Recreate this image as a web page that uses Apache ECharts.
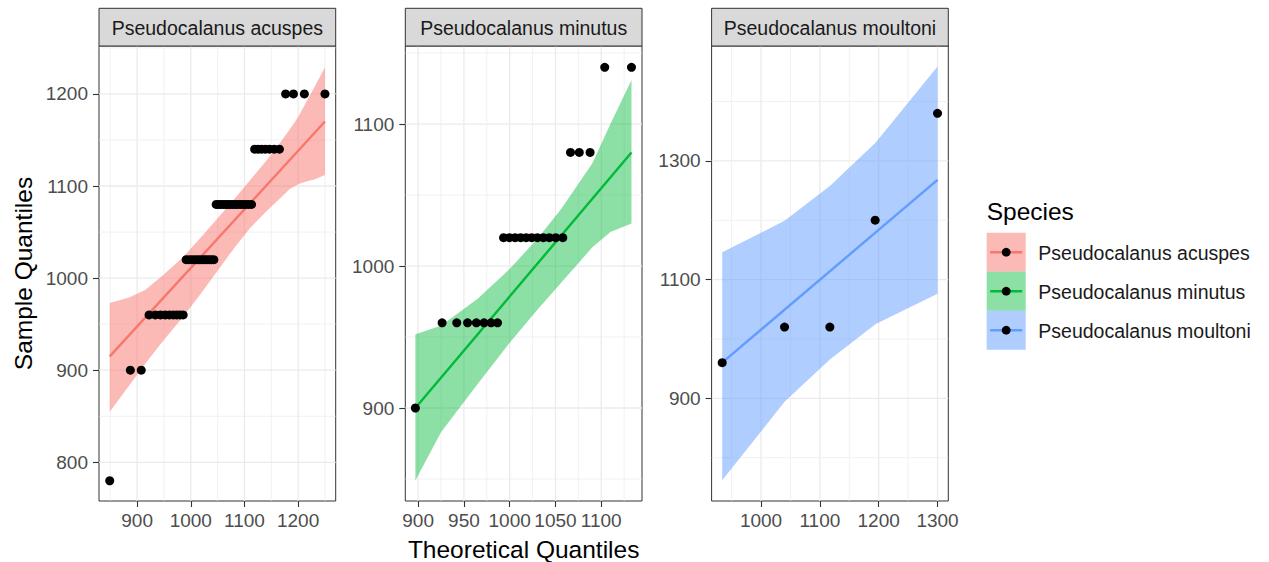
<!DOCTYPE html>
<html>
<head>
<meta charset="utf-8">
<script src="https://cdn.jsdelivr.net/npm/echarts@6/dist/echarts.min.js"></script>
<style>
  html, body { margin: 0; padding: 0; background: #ffffff; }
  #chart { width: 1269px; height: 562px; }
</style>
</head>
<body>
<div id="chart"></div>
<script>
// ---- data ----
const species = ['Pseudocalanus acuspes', 'Pseudocalanus minutus', 'Pseudocalanus moultoni'];

// Pseudocalanus acuspes: theoretical vs sample quantiles
const acuspesTheo = [849.0, 887.4, 907.7, 922.3, 933.9, 943.7, 952.4, 960.2, 967.3, 973.8,
  980.0, 985.8, 991.4, 996.7, 1001.8, 1006.7, 1011.6, 1016.3, 1020.9, 1025.5,
  1029.8, 1034.3, 1038.6, 1043.0, 1047.3, 1051.7, 1056.0, 1060.4, 1064.7, 1069.2,
  1073.5, 1078.1, 1082.7, 1087.4, 1092.3, 1097.2, 1102.3, 1107.6, 1113.2, 1119.0,
  1125.2, 1131.7, 1138.8, 1146.6, 1155.3, 1165.1, 1176.7, 1191.3, 1211.6, 1250.0];
const acuspesSample = [780, 900, 900, 960, 960, 960, 960, 960, 960, 960,
  960, 960, 1020, 1020, 1020, 1020, 1020, 1020, 1020, 1020,
  1020, 1020, 1020, 1020, 1080, 1080, 1080, 1080, 1080, 1080,
  1080, 1080, 1080, 1080, 1080, 1080, 1080, 1080, 1080, 1140,
  1140, 1140, 1140, 1140, 1140, 1140, 1200, 1200, 1200, 1200];
const acuspesLine = [[849, 915], [1250, 1170]];
const acuspesBandX  = [849, 885, 915, 946, 985, 1020, 1050, 1080, 1110, 1140, 1165, 1185, 1200, 1215, 1230, 1250];
const acuspesBandHi = [973, 979, 987, 1002, 1022.5, 1045, 1065, 1085, 1106, 1127, 1146, 1162, 1175, 1191, 1207, 1229];
const acuspesBandLo = [855, 883, 907, 930, 957.5, 984, 1008, 1032, 1054, 1072, 1086, 1097, 1102, 1105, 1107, 1112];

// Pseudocalanus minutus
const minutusTheo = [897.0, 926.2, 942.2, 954.0, 963.6, 972.0, 979.7, 986.7, 993.3, 999.7,
  1005.9, 1012.0, 1018.0, 1024.1, 1030.3, 1036.7, 1043.3, 1050.3, 1058.0, 1066.4,
  1076.0, 1087.8, 1103.8, 1133.0];
const minutusSample = [900, 960, 960, 960, 960, 960, 960, 960, 1020, 1020,
  1020, 1020, 1020, 1020, 1020, 1020, 1020, 1020, 1020, 1080,
  1080, 1080, 1140, 1140];
const minutusLine = [[897, 900], [1133, 1080]];
const minutusBandX  = [897, 925, 965, 1000, 1030, 1056, 1090, 1110, 1133];
const minutusBandHi = [952, 958, 977, 998, 1019, 1040, 1072, 1100, 1131];
const minutusBandLo = [849, 883, 917, 946, 969, 988, 1013, 1024, 1030];

// Pseudocalanus moultoni
const moultoniTheo = [934, 1040, 1117, 1194, 1300];
const moultoniSample = [960, 1020, 1020, 1200, 1380];
const moultoniLine = [[934, 960], [1300, 1268]];
const moultoniBandX  = [934, 1040, 1117.5, 1195, 1300];
const moultoniBandHi = [1146, 1199, 1258, 1331, 1459];
const moultoniBandLo = [762, 894, 966, 1025, 1076];

// tick labels and grid breaks
const acuspesXTicks = [900, 1000, 1100, 1200];
const acuspesYTicks = [800, 900, 1000, 1100, 1200];
const acuspesXMinor = [850, 950, 1050, 1150, 1250];
const acuspesYMinor = [850, 950, 1050, 1150, 1250];
const minutusXTicks = [900, 950, 1000, 1050, 1100];
const minutusYTicks = [900, 1000, 1100];
const minutusXMinor = [925, 975, 1025, 1075, 1125];
const minutusYMinor = [850, 950, 1050, 1150];
const moultoniXTicks = [1000, 1100, 1200, 1300];
const moultoniYTicks = [900, 1100, 1300];
const moultoniXMinor = [950, 1050, 1150, 1250];
const moultoniYMinor = [800, 1000, 1200, 1400];

// ---- styling / layout ----
const FONT = "'Liberation Sans', Arial, Helvetica, sans-serif";
const lineColors = ['#F8766D', '#00BA38', '#619CFF'];
const bandColors = ['rgba(248,118,109,0.5)', 'rgba(0,186,56,0.45)', 'rgba(97,156,255,0.5)'];

const panels = [
  { theo: acuspesTheo, sample: acuspesSample, line: acuspesLine,
    bx: acuspesBandX, bhi: acuspesBandHi, blo: acuspesBandLo,
    xt: acuspesXTicks, yt: acuspesYTicks, xm: acuspesXMinor, ym: acuspesYMinor,
    xr: [829, 1270], yr: [758, 1252] },
  { theo: minutusTheo, sample: minutusSample, line: minutusLine,
    bx: minutusBandX, bhi: minutusBandHi, blo: minutusBandLo,
    xt: minutusXTicks, yt: minutusYTicks, xm: minutusXMinor, ym: minutusYMinor,
    xr: [886, 1144.5], yr: [834.5, 1155] },
  { theo: moultoniTheo, sample: moultoniSample, line: moultoniLine,
    bx: moultoniBandX, bhi: moultoniBandHi, blo: moultoniBandLo,
    xt: moultoniXTicks, yt: moultoniYTicks, xm: moultoniXMinor, ym: moultoniYMinor,
    xr: [916, 1318.3], yr: [727, 1493.5] }
];

const panelLeft = [99, 405.3, 711.6];
const panelTop = 46, panelW = 236.7, panelH = 455;
const stripTop = 8.3, stripH = 37.7;

const plainNumber = v => String(Math.round(v));
const grids = [], xAxes = [], yAxes = [], series = [], graphics = [];

panels.forEach((p, i) => {
  grids.push({
    left: panelLeft[i], top: panelTop, width: panelW, height: panelH,
    show: true, borderColor: '#333333', borderWidth: 1, backgroundColor: '#ffffff'
  });
  xAxes.push({
    gridIndex: i, type: 'value', min: p.xr[0], max: p.xr[1],
    axisLine: { show: false }, splitLine: { show: false },
    axisTick: { show: true, customValues: p.xt, length: 6, lineStyle: { color: '#333333', width: 1.1 } },
    axisLabel: { customValues: p.xt, formatter: plainNumber, showMinLabel: true, showMaxLabel: true,
                 hideOverlap: false, color: '#4D4D4D', fontSize: 19, fontFamily: FONT, margin: 10 }
  });
  yAxes.push({
    gridIndex: i, type: 'value', min: p.yr[0], max: p.yr[1],
    axisLine: { show: false }, splitLine: { show: false },
    axisTick: { show: true, customValues: p.yt, length: 6, lineStyle: { color: '#333333', width: 1.1 } },
    axisLabel: { customValues: p.yt, formatter: plainNumber, showMinLabel: true, showMaxLabel: true,
                 hideOverlap: false, color: '#4D4D4D', fontSize: 19, fontFamily: FONT, margin: 11 }
  });

  // panel grid lines (minor then major)
  series.push({
    type: 'custom', xAxisIndex: i, yAxisIndex: i, z: 0, silent: true, animation: false,
    data: [[p.xr[0], p.yr[0]]],
    renderItem: function (params, api) {
      const children = [];
      const add = (a, b, w) => children.push({
        type: 'line', shape: { x1: a[0], y1: a[1], x2: b[0], y2: b[1] },
        style: { stroke: '#EBEBEB', lineWidth: w }
      });
      p.xm.forEach(v => add(api.coord([v, p.yr[0]]), api.coord([v, p.yr[1]]), 0.7));
      p.ym.forEach(v => add(api.coord([p.xr[0], v]), api.coord([p.xr[1], v]), 0.7));
      p.xt.forEach(v => add(api.coord([v, p.yr[0]]), api.coord([v, p.yr[1]]), 1.3));
      p.yt.forEach(v => add(api.coord([p.xr[0], v]), api.coord([p.xr[1], v]), 1.3));
      return { type: 'group', children };
    }
  });

  // confidence band
  series.push({
    type: 'custom', xAxisIndex: i, yAxisIndex: i, z: 1, silent: true, animation: false,
    data: [[p.bx[0], p.blo[0]]],
    renderItem: function (params, api) {
      const pts = [];
      p.bx.forEach((x, k) => pts.push(api.coord([x, p.bhi[k]])));
      for (let k = p.bx.length - 1; k >= 0; k--) pts.push(api.coord([p.bx[k], p.blo[k]]));
      return { type: 'polygon', shape: { points: pts }, style: { fill: bandColors[i], stroke: null } };
    }
  });

  // reference line
  series.push({
    type: 'line', xAxisIndex: i, yAxisIndex: i, z: 2, silent: true, animation: false,
    data: p.line, symbol: 'none',
    lineStyle: { color: lineColors[i], width: 2.4 }
  });

  // sample points
  series.push({
    type: 'scatter', xAxisIndex: i, yAxisIndex: i, z: 3, silent: true, animation: false,
    data: p.theo.map((x, k) => [x, p.sample[k]]),
    symbol: 'circle', symbolSize: 9,
    itemStyle: { color: '#000000', opacity: 1 }
  });

  // facet strip
  graphics.push({
    type: 'rect', z: 10,
    shape: { x: panelLeft[i], y: stripTop, width: panelW, height: stripH },
    style: { fill: '#D9D9D9', stroke: '#333333', lineWidth: 1 }
  });
  graphics.push({
    type: 'text', z: 11, x: panelLeft[i] + panelW / 2, y: stripTop + stripH / 2 + 0.5,
    style: { text: species[i], fill: '#1A1A1A', fontSize: 19.5, fontFamily: FONT,
             align: 'center', verticalAlign: 'middle' }
  });
});

// axis titles
graphics.push({
  type: 'text', z: 11, x: (panelLeft[0] + panelLeft[2] + panelW) / 2, y: 549,
  style: { text: 'Theoretical Quantiles', fill: '#000000', fontSize: 24.5, fontFamily: FONT,
           align: 'center', verticalAlign: 'middle' }
});
graphics.push({
  type: 'text', z: 11, x: 23, y: panelTop + panelH / 2, rotation: Math.PI / 2,
  style: { text: 'Sample Quantiles', fill: '#000000', fontSize: 24.5, fontFamily: FONT,
           align: 'center', verticalAlign: 'middle' }
});

// legend
const legX = 986.7, legTop = 232.7, keySize = 39;
graphics.push({
  type: 'text', z: 11, x: legX, y: 211,
  style: { text: 'Species', fill: '#000000', fontSize: 24.5, fontFamily: FONT,
           align: 'left', verticalAlign: 'middle' }
});
species.forEach((name, i) => {
  const cy = legTop + keySize * i + keySize / 2;
  graphics.push({
    type: 'rect', z: 10,
    shape: { x: legX, y: legTop + keySize * i, width: keySize, height: keySize },
    style: { fill: bandColors[i] }
  });
  graphics.push({
    type: 'line', z: 11,
    shape: { x1: legX + 3.5, y1: cy, x2: legX + keySize - 3.5, y2: cy },
    style: { stroke: lineColors[i], lineWidth: 2.4 }
  });
  graphics.push({
    type: 'circle', z: 12,
    shape: { cx: legX + keySize / 2, cy: cy, r: 4.4 },
    style: { fill: '#000000' }
  });
  graphics.push({
    type: 'text', z: 11, x: 1038.3, y: cy + 1,
    style: { text: name, fill: '#1A1A1A', fontSize: 19.5, fontFamily: FONT,
             align: 'left', verticalAlign: 'middle' }
  });
});

const chart = echarts.init(document.getElementById('chart'), null, { renderer: 'svg' });
chart.setOption({
  animation: false,
  backgroundColor: '#ffffff',
  grid: grids,
  xAxis: xAxes,
  yAxis: yAxes,
  series: series,
  graphic: graphics
});
</script>
</body>
</html>
